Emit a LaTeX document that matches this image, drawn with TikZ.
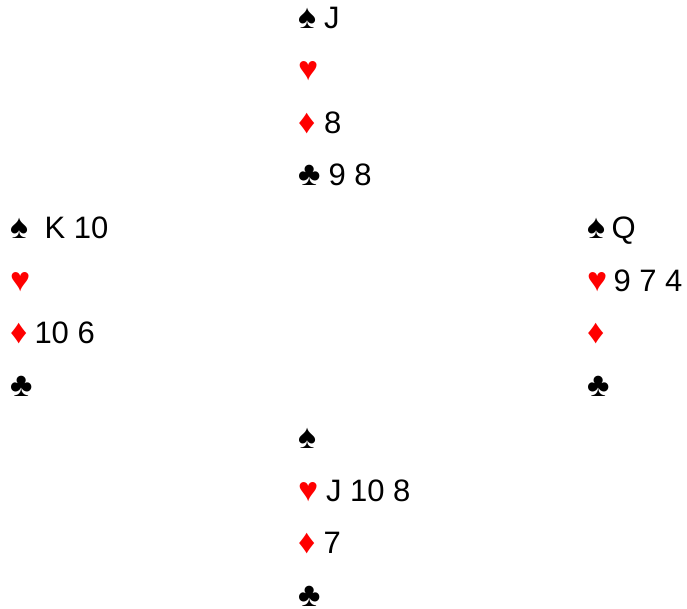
\documentclass[tikz,border=0pt]{standalone}
\usepackage{fontspec}
\setmainfont{Liberation Sans}
\definecolor{suitred}{RGB}{255,0,0}
\tikzset{
  txt/.style={anchor=base west, inner sep=0pt, outer sep=0pt, font=\fontsize{31}{33}\selectfont},
  suit/.style={anchor=base west, inner sep=0pt, outer sep=0pt, font=\fontsize{34}{36}\selectfont},
  redsuit/.style={suit, text=suitred},
}
\begin{document}
\begin{tikzpicture}[x=1pt,y=-1pt]
\useasboundingbox (0,0) rectangle (687,609);
% North
\node[suit] (nsS) at (298,28.5) {♠};
\node[txt] (nsT) at (324,28.5) {J};
\node[redsuit] (nhS) at (298,81) {♥};
\node[redsuit] (ndS) at (298,133.5) {♦};
\node[txt] (ndT) at (324,133.5) {8};
\node[suit] (ncS) at (298,186) {♣};
\node[txt] (ncT) at (328.5,186) {9 8};
% West
\node[suit] (wsS) at (10,238.5) {♠};
\node[txt] (wsT) at (44.5,238.5) {K 10};
\node[redsuit] (whS) at (10,291) {♥};
\node[redsuit] (wdS) at (10,343.5) {♦};
\node[txt] (wdT) at (34.5,343.5) {10 6};
\node[suit] (wcS) at (10,396) {♣};
% East
\node[suit] (esS) at (587,238.5) {♠};
\node[txt] (esT) at (611.5,238.5) {Q};
\node[redsuit] (ehS) at (587,291) {♥};
\node[txt] (ehT) at (613.5,291) {9 7 4};
\node[redsuit] (edS) at (587,343.5) {♦};
\node[suit] (ecS) at (587,396) {♣};
% South
\node[suit] (ssS) at (298,448.5) {♠};
\node[redsuit] (shS) at (298,501) {♥};
\node[txt] (shT) at (326,501) {J 10 8};
\node[redsuit] (sdS) at (298,553.5) {♦};
\node[txt] (sdT) at (323.5,553.5) {7};
\node[suit] (scS) at (298,606) {♣};
\end{tikzpicture}
\end{document}
